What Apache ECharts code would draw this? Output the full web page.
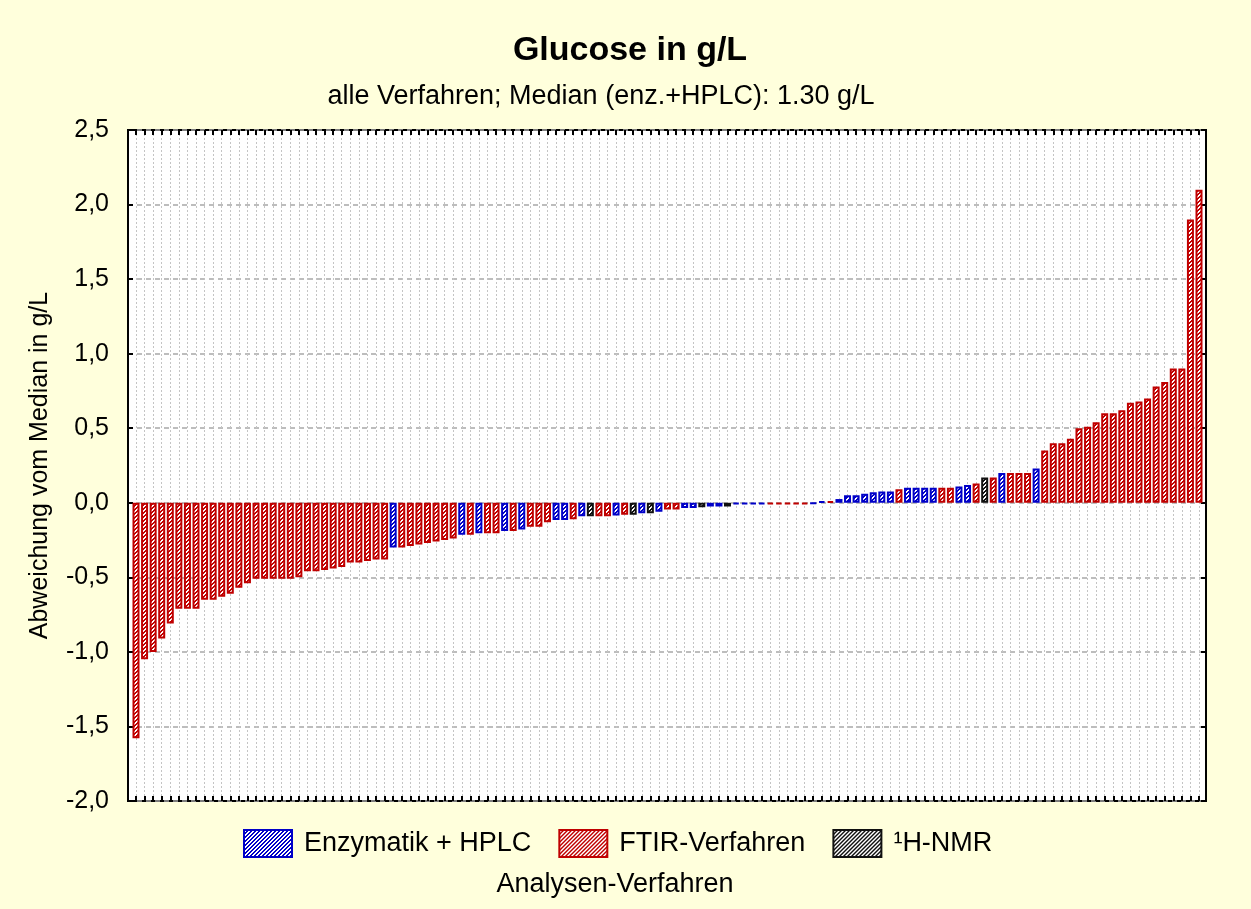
<!DOCTYPE html>
<html><head><meta charset="utf-8">
<script src="https://cdn.jsdelivr.net/npm/echarts@6/dist/echarts.min.js"></script>
<style>html,body{margin:0;padding:0;background:#FFFFDC}#c{width:1251px;height:909px}</style>
</head><body><div id="c"></div>
<script>
const titleText = 'Glucose in g/L';
const subtitleText = 'alle Verfahren; Median (enz.+HPLC): 1.30 g/L';
const yAxisTitle = 'Abweichung vom Median in g/L';
const xAxisTitle = 'Analysen-Verfahren';
const seriesNames = ['Enzymatik + HPLC', 'FTIR-Verfahren', '\u00B9H-NMR'];
const seriesCodes = ['E', 'F', 'N'];
const seriesColors = ['#0000C8', '#C00000', '#101010'];

// deviation from median per lab (sorted), g/L
const values = [
  -1.58,-1.05,-1.00,-0.91,-0.81,-0.71,-0.71,-0.71,-0.65,-0.65,
  -0.63,-0.61,-0.57,-0.54,-0.51,-0.51,-0.51,-0.51,-0.51,-0.50,
  -0.46,-0.46,-0.45,-0.44,-0.43,-0.40,-0.40,-0.39,-0.38,-0.38,
  -0.30,-0.30,-0.29,-0.28,-0.27,-0.26,-0.25,-0.24,-0.215,-0.215,
  -0.205,-0.205,-0.205,-0.19,-0.19,-0.18,-0.16,-0.16,-0.13,-0.115,
  -0.115,-0.11,-0.09,-0.09,-0.09,-0.09,-0.085,-0.08,-0.08,-0.07,
  -0.07,-0.06,-0.045,-0.045,-0.035,-0.035,-0.03,-0.025,-0.025,-0.025,
  -0.01,-0.01,-0.01,-0.01,-0.01,-0.01,-0.01,-0.01,-0.01,-0.005,
  0.01,0.01,0.025,0.05,0.05,0.06,0.07,0.075,0.075,0.09,
  0.10,0.10,0.10,0.10,0.10,0.10,0.11,0.12,0.13,0.17,
  0.17,0.20,0.20,0.20,0.20,0.23,0.35,0.40,0.40,0.43,
  0.50,0.51,0.54,0.60,0.60,0.62,0.67,0.68,0.70,0.78,
  0.81,0.90,0.90,1.90,2.10
];
// analysis method per bar: E = Enzymatik + HPLC, F = FTIR, N = 1H-NMR
const methods = [
  'F','F','F','F','F','F','F','F','F','F',
  'F','F','F','F','F','F','F','F','F','F',
  'F','F','F','F','F','F','F','F','F','F',
  'E','F','F','F','F','F','F','F','E','F',
  'E','F','F','E','F','E','F','F','F','E',
  'E','F','E','N','F','F','E','F','N','E',
  'N','E','F','F','E','E','N','E','E','N',
  'E','E','E','E','F','F','F','F','F','E',
  'E','F','E','E','E','E','E','E','E','F',
  'E','E','E','E','F','F','E','E','F','N',
  'F','E','F','F','F','E','F','F','F','F',
  'F','F','F','F','F','F','F','F','F','F',
  'F','F','F','F','F'
];
const categories = values.map((_, i) => String(i + 1));
const yMin = -2.0, yMax = 2.5, yStep = 0.5;
const yTickLabels = ['-2,0','-1,5','-1,0','-0,5','0,0','0,5','1,0','1,5','2,0','2,5'];

function hatch(color) {
  const c = document.createElement('canvas');
  c.width = 4; c.height = 4;
  const g = c.getContext('2d');
  g.fillStyle = '#ffffff'; g.fillRect(0, 0, 4, 4);
  g.fillStyle = color;
  for (let i = 0; i < 4; i++) { g.fillRect(i, 3 - i, 1, 1); g.fillRect(i, (4 - i) % 4, 1, 1); }
  return { image: c, repeat: 'repeat' };
}

const FONT = '"Liberation Sans", Arial, Helvetica, sans-serif';
const chart = echarts.init(document.getElementById('c'), null, { renderer: 'canvas' });

const series = seriesCodes.map((code, k) => ({
  name: seriesNames[k],
  type: 'bar',
  xAxisIndex: 0,
  yAxisIndex: 2,
  barWidth: 7,
  barGap: '-100%',
  clip: false,
  itemStyle: { color: hatch(seriesColors[k]), borderColor: seriesColors[k], borderWidth: 2 },
  emphasis: { disabled: true },
  data: values.map((v, i) => methods[i] === code ? v : '-')
}));

const option = {
  backgroundColor: '#FFFFDC',
  animation: false,
  textStyle: { fontFamily: FONT },
  grid: [
    { left: 128, right: 45, top: 130, bottom: 108, show: true, backgroundColor: '#ffffff', borderColor: '#000', borderWidth: 2 },
    { left: 136, right: 52, top: 130, bottom: 108 }
  ],
  xAxis: [
    { type: 'category', gridIndex: 1, data: categories, boundaryGap: false, position: 'bottom',
      axisLine: { show: false, onZero: false }, axisLabel: { show: false, interval: 0 },
      axisTick: { show: true, inside: true, length: 5, interval: 0, lineStyle: { color: '#000', width: 2 } },
      splitLine: { show: true, interval: 0, lineStyle: { color: '#c4c4c4', width: 1, type: [2, 2] } } },
    { type: 'category', gridIndex: 1, data: categories, boundaryGap: false, position: 'top',
      axisLine: { show: false, onZero: false }, axisLabel: { show: false, interval: 0 },
      axisTick: { show: true, inside: true, length: 5, interval: 0, lineStyle: { color: '#000', width: 2 } },
      splitLine: { show: false } },
    { type: 'value', gridIndex: 0, min: 0, max: 1, show: false }
  ],
  yAxis: [
    { type: 'value', gridIndex: 0, min: yMin, max: yMax, interval: yStep, position: 'left',
      name: yAxisTitle, nameLocation: 'middle', nameRotate: 90, nameGap: 75,
      nameTextStyle: { fontSize: 25, color: '#000', fontFamily: FONT },
      axisLine: { show: true, onZero: false, lineStyle: { color: '#000', width: 2 } },
      axisTick: { show: true, inside: true, length: 5, lineStyle: { color: '#000', width: 2 } },
      axisLabel: { fontSize: 25, color: '#000', margin: 19, fontFamily: FONT,
        formatter: v => yTickLabels[Math.round((v - yMin) / yStep)] },
      splitLine: { show: true, lineStyle: { color: '#a8a8a8', width: 1.5, type: [5, 4] } } },
    { type: 'value', gridIndex: 0, min: yMin, max: yMax, interval: yStep, position: 'right',
      axisLine: { show: true, onZero: false, lineStyle: { color: '#000', width: 2 } },
      axisTick: { show: true, inside: true, length: 5, lineStyle: { color: '#000', width: 2 } },
      axisLabel: { show: false }, splitLine: { show: false } },
    { type: 'value', gridIndex: 1, min: yMin, max: yMax, interval: yStep, show: false,
      splitLine: { show: false } }
  ],
  legend: {
    left: 243, top: 829, padding: 0, itemWidth: 48, itemHeight: 27, itemGap: 27, icon: 'rect',
    selectedMode: false,
    textStyle: { fontSize: 27, color: '#000', fontFamily: FONT, padding: [0, 0, 0, 7] },
    data: seriesNames
  },
  graphic: [
    { type: 'text', x: 630, y: 51, style: { text: titleText, font: 'bold 34px ' + FONT, fill: '#000', align: 'center', verticalAlign: 'middle', textAlign: 'center', textVerticalAlign: 'middle' } },
    { type: 'text', x: 601, y: 97, style: { text: subtitleText, font: '27px ' + FONT, fill: '#000', align: 'center', verticalAlign: 'middle', textAlign: 'center', textVerticalAlign: 'middle' } },
    { type: 'text', x: 615, y: 885, style: { text: xAxisTitle, font: '27px ' + FONT, fill: '#000', align: 'center', verticalAlign: 'middle', textAlign: 'center', textVerticalAlign: 'middle' } }
  ],
  series: series
};
chart.setOption(option);
</script></body></html>
